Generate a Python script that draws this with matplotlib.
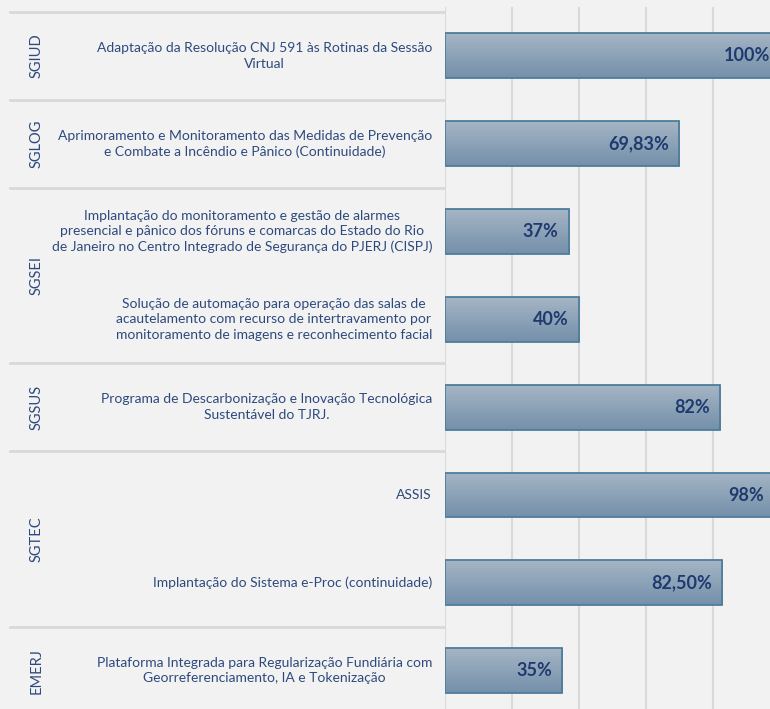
import numpy as np
import matplotlib.pyplot as plt
from matplotlib.transforms import blended_transform_factory

groups = ["SGIUD", "SGLOG", "SGSEI", "SGSUS", "SGTEC", "EMERJ"]
group_rows = [[0], [1], [2, 3], [4], [5, 6], [7]]
projects = [
    "Adaptação da Resolução CNJ 591 às Rotinas da Sessão\nVirtual",
    "Aprimoramento e Monitoramento das Medidas de Prevenção\ne Combate a Incêndio e Pânico (Continuidade)",
    "Implantação do monitoramento e gestão de alarmes\npresencial e pânico dos fóruns e comarcas do Estado do Rio\nde Janeiro no Centro Integrado de Segurança do PJERJ (CISPJ)",
    "Solução de automação para operação das salas de\nacautelamento com recurso de intertravamento por\nmonitoramento de imagens e reconhecimento facial",
    "Programa de Descarbonização e Inovação Tecnológica\nSustentável do TJRJ.",
    "ASSIS",
    "Implantação do Sistema e-Proc (continuidade)",
    "Plataforma Integrada para Regularização Fundiária com\nGeorreferenciamento, IA e Tokenização",
]
values = [100, 69.83, 37, 40, 82, 98, 82.5, 35]
labels = ["100%", "69,83%", "37%", "40%", "82%", "98%", "82,50%", "35%"]

W, H = 770, 709
bg = "#F2F2F2"
txt = "#2E4A7D"
plt.rcParams['font.family'] = ['Lato', 'DejaVu Sans']

fig = plt.figure(figsize=(W / 100, H / 100), dpi=100, facecolor=bg)
ax = fig.add_axes([444.5 / W, 0, 1 - 444.5 / W, 1 - 7 / H], facecolor=bg)
for s in ax.spines.values():
    s.set_visible(False)
ax.set_xticks([0, 20, 40, 60, 80, 100])
ax.tick_params(length=0, labelbottom=False, labelleft=False)
ax.set_yticks([])
ax.grid(axis='x', color='#D9D9D9', lw=1.5)
ax.set_axisbelow(True)

y = np.arange(len(values))
bars = ax.barh(y, values, height=0.51, color='none', edgecolor='#4F7C9B', lw=1.3, zorder=3)
grad = np.linspace(0, 1, 100).reshape(-1, 1)
cmap = plt.matplotlib.colors.LinearSegmentedColormap.from_list('g', ['#A5B5C5', '#7490AA'])
for b in bars:
    x0, y0, w, h = b.get_x(), b.get_y(), b.get_width(), b.get_height()
    im = ax.imshow(grad, cmap=cmap, aspect='auto', extent=[x0, x0 + w, y0 + h, y0], zorder=2)
    im.set_clip_path(b)

# limits after imshow (it rescales the axes)
ax.set_xlim(0, (W - 444.5) / 3.36)
ax.set_ylim(7.436, -0.556)

for i, (v, lab) in enumerate(zip(values, labels)):
    ax.annotate(lab, (v, i), xytext=(-10, 0), textcoords='offset pixels',
                ha='right', va='center', fontsize=13, fontweight='bold', color='#1F3A6E',
                zorder=4, annotation_clip=False)

tr = blended_transform_factory(fig.transFigure, ax.transData)
for i, p in enumerate(projects):
    ax.text(432 / W, i, p, transform=tr, ha='right', va='center', multialignment='center',
            fontsize=10, color=txt, linespacing=1.35, clip_on=False)

for g, rows in zip(groups, group_rows):
    ax.text(37 / W, np.mean(rows), g, transform=tr, ha='center', va='center', rotation=90,
            fontsize=10.5, color=txt, clip_on=False)

seps = [-0.5] + [rows[-1] + 0.5 for rows in group_rows[:-1]]
for s in seps:
    ax.plot([10 / W, 444 / W], [s, s], transform=tr, color='#D9D9D9', lw=2, clip_on=False)

fig.savefig('out.png', dpi=100, facecolor=bg)
